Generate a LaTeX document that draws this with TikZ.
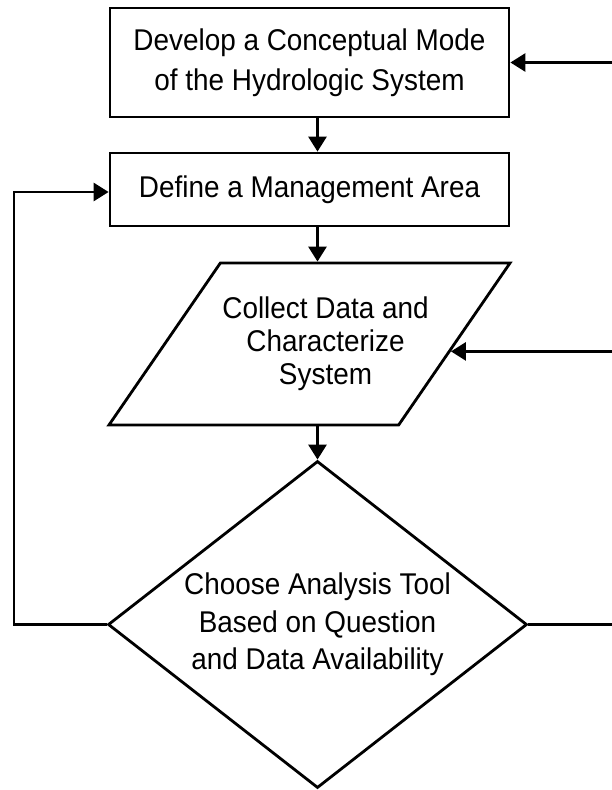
\documentclass[tikz,border=0pt]{standalone}
\usepackage{fontspec}
\setmainfont{Liberation Sans}[FakeStretch=0.93]
\usetikzlibrary{arrows.meta,positioning,shapes.geometric}

\begin{document}
\begin{tikzpicture}[x=1pt,y=-1pt]
\tikzstyle{procbox}=[draw=black,line width=2.8pt,rectangle,minimum width=399pt,inner sep=0pt,align=center,font=\fontsize{30}{40}\selectfont]
\tikzstyle{iobox}=[draw=black,line width=2.8pt,trapezium,trapezium left angle=58,trapezium right angle=122,trapezium stretches=true,minimum width=401pt,minimum height=162pt,inner sep=0pt,text width=1pt,text height=1pt,text depth=0pt]
\tikzstyle{decision}=[draw=black,line width=2.8pt,diamond,aspect=1.28,minimum width=419pt,minimum height=327pt,inner sep=0pt,align=center,font=\fontsize{30}{37.5}\selectfont]
\tikzstyle{arrow}=[line width=2.8pt,-{Triangle[length=15pt,width=18pt]}]
\tikzstyle{link}=[line width=2.8pt]
\useasboundingbox (0,0) rectangle (612,790);

\node [procbox,minimum height=109pt] at (309.5,62.5) (box1) {Develop a Conceptual Mode\\of the Hydrologic System};
\node [procbox,minimum height=73pt] at (309.5,189.5) (box2) {Define a Management Area};
\node [iobox,label={[name=iotext,xshift=16pt,align=center,font=\fontsize{30}{33}\selectfont]center:{Collect Data and\\Characterize\\System}}] at (309.5,344) (para) {};
\node [decision] at (317.5,624.5) (dia) {Choose Analysis Tool\\Based on Question\\and Data Availability};

% free ends of the loops
\coordinate (lft) at (14,0 |- dia.west);
\coordinate (rgt1) at (613,0 |- box1.east);
\coordinate (rgt2) at (613,0 |- para.-3.6);
\coordinate (rgt3) at (613,0 |- dia.east);

\draw [arrow] (box1.south -| dia.north) -- (box2.north -| dia.north);
\draw [arrow] (box2.south -| dia.north) -- (para.north -| dia.north);
\draw [arrow] (para.south -| dia.north) -- (dia.north);
\draw [arrow] (dia.west) -- (lft) |- ([yshift=-2.5pt]box2.west);
\draw [link] (dia.east) -- (rgt3);
\draw [arrow] (rgt1) -- (box1.east);
\draw [arrow] (rgt2) -- (para.-3.6);
\end{tikzpicture}
\end{document}
